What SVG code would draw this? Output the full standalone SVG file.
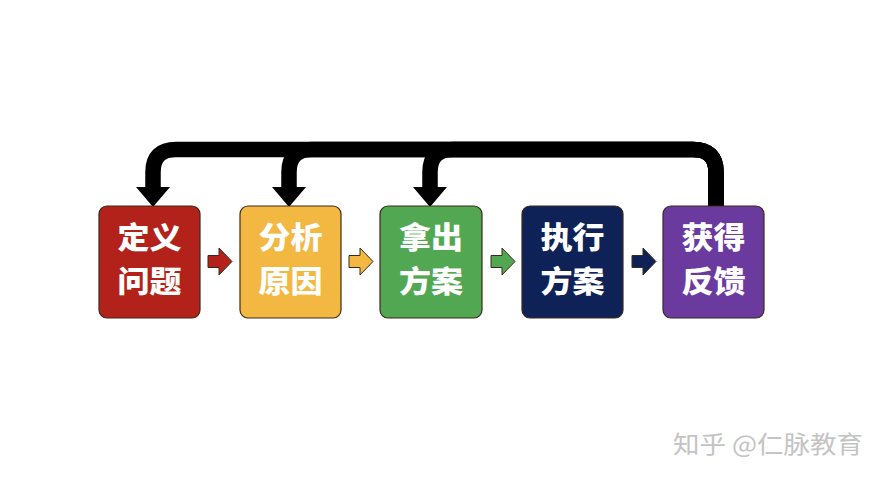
<svg xmlns="http://www.w3.org/2000/svg" width="888" height="483" viewBox="0 0 888 483">
<defs>
<style>
.box{stroke:#3a2a1a;stroke-width:1.2}
.lbl{font-family:"Noto Sans CJK SC","Noto Sans",sans-serif;font-weight:900;font-size:30px;fill:#ffffff;text-anchor:middle}
.fb{fill:none;stroke:#000000;stroke-width:15.5;stroke-linejoin:round}
.sa{stroke:#3a2a1a;stroke-width:1}
.wm{font-family:"Noto Sans CJK SC","Noto Sans",sans-serif;font-size:24px;fill:#c4c4c4}
</style>
</defs>
<rect width="888" height="483" fill="#ffffff"/>
<g id="connectors">
<path class="fb" d="M716,206 V172 Q716,149.5 693,149.5 H453 Q430,149.5 430,172 V187"/>
<path class="fb" d="M716,206 V172 Q716,149.5 693,149.5 H312 Q289,149.5 289,172 V187"/>
<path class="fb" d="M716,206 V172 Q716,149.5 693,149.5 H176 Q153,149.5 153,172 V187"/>
<path d="M136,187 H170 L153,207 Z" fill="#000"/>
<path d="M272,187 H306 L289,207 Z" fill="#000"/>
<path d="M413,187 H447 L430,207 Z" fill="#000"/>
<path class="sa" fill="#B3221A" d="M208,255.5 H219 V248 L232,261.5 L219,275 V267.5 H208 Z"/>
<path class="sa" fill="#F2B842" d="M349,255.5 H360 V248 L373,261.5 L360,275 V267.5 H349 Z"/>
<path class="sa" fill="#52A852" d="M491,255.5 H502 V248 L515,261.5 L502,275 V267.5 H491 Z"/>
<path class="sa" fill="#0F2258" d="M632,255.5 H643 V248 L656,261.5 L643,275 V267.5 H632 Z"/>
</g>
<g id="n1">
<rect class="box" x="99" y="206" width="101" height="112" rx="8" fill="#B3221A"/>
<text class="lbl" x="149.5" y="248" textLength="64" lengthAdjust="spacingAndGlyphs">定义</text>
<text class="lbl" x="149.5" y="292" textLength="64" lengthAdjust="spacingAndGlyphs">问题</text>
</g>
<g id="n2">
<rect class="box" x="240" y="206" width="101" height="112" rx="8" fill="#F2B842"/>
<text class="lbl" x="290.5" y="248" textLength="64" lengthAdjust="spacingAndGlyphs">分析</text>
<text class="lbl" x="290.5" y="292" textLength="64" lengthAdjust="spacingAndGlyphs">原因</text>
</g>
<g id="n3">
<rect class="box" x="380" y="206" width="102" height="112" rx="8" fill="#52A852"/>
<text class="lbl" x="431" y="248" textLength="64" lengthAdjust="spacingAndGlyphs">拿出</text>
<text class="lbl" x="431" y="292" textLength="64" lengthAdjust="spacingAndGlyphs">方案</text>
</g>
<g id="n4">
<rect class="box" x="522" y="206" width="101" height="112" rx="8" fill="#0F2258"/>
<text class="lbl" x="572.5" y="248" textLength="64" lengthAdjust="spacingAndGlyphs">执行</text>
<text class="lbl" x="572.5" y="292" textLength="64" lengthAdjust="spacingAndGlyphs">方案</text>
</g>
<g id="n5">
<rect class="box" x="663" y="206" width="101" height="112" rx="8" fill="#6A3A9F"/>
<text class="lbl" x="713.5" y="248" textLength="64" lengthAdjust="spacingAndGlyphs">获得</text>
<text class="lbl" x="713.5" y="292" textLength="64" lengthAdjust="spacingAndGlyphs">反馈</text>
</g>
<text class="wm" x="673" y="453" textLength="190" lengthAdjust="spacingAndGlyphs">知乎 @仁脉教育</text>
</svg>
